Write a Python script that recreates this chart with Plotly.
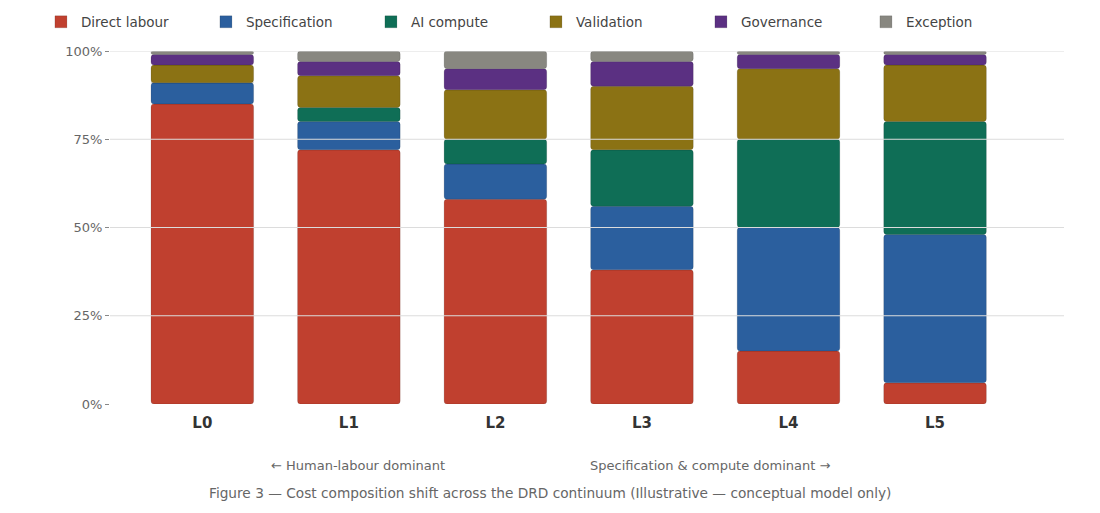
import numpy as np
import plotly.graph_objects as go

levels = ["L0", "L1", "L2", "L3", "L4", "L5"]

# cost shares (%) per level
direct_labour = [85, 72, 58, 38, 15, 6]
specification = [6, 8, 10, 18, 35, 42]
ai_compute = [0, 4, 7, 16, 25, 32]
validation = [5, 9, 14, 18, 20, 16]
governance = [3, 4, 6, 7, 4, 3]
exception = [1, 3, 5, 3, 1, 1]

series = [
    ("Direct labour", direct_labour, "#c0402f"),
    ("Specification", specification, "#2b5f9e"),
    ("AI compute", ai_compute, "#0f6e56"),
    ("Validation", validation, "#8b7214"),
    ("Governance", governance, "#5b3082"),
    ("Exception", exception, "#888780"),
]

y_ticks = [0, 25, 50, 75, 100]
y_labels = ["0%", "25%", "50%", "75%", "100%"]

fig = go.Figure()
base = np.zeros(len(levels))
for name, vals, col in series:
    vals = np.array(vals, dtype=float)
    fig.add_trace(go.Bar(
        x=levels, y=vals, base=base, name=name, legendgroup=name,
        showlegend=False, width=0.7,
        marker=dict(color=col, cornerradius=3,
                    line=dict(color="rgba(0,0,0,0.25)", width=0.5)),
    ))
    base = base + vals

# square legend swatches (rounded bars would give round swatches)
for name, vals, col in series:
    fig.add_trace(go.Bar(x=[levels[0]], y=[None], name=name, legendgroup=name,
                         marker=dict(color=col, line=dict(color="rgba(0,0,0,0.25)", width=0.5))))

# grid lines sit on top of the bars in the original
for t in y_ticks[1:]:
    fig.add_shape(type="line", xref="paper", yref="y", x0=0, x1=1, y0=t, y1=t,
                  line=dict(color="#dcdcdc", width=1), layer="above")

grey = "#666666"
fig.add_annotation(text="← Human-labour dominant", xref="paper", yref="paper",
                   x=0.26, y=-0.173, xanchor="center", yanchor="middle",
                   showarrow=False, font=dict(size=13, color=grey))
fig.add_annotation(text="Specification & compute dominant →", xref="paper", yref="paper",
                   x=0.629, y=-0.173, xanchor="center", yanchor="middle",
                   showarrow=False, font=dict(size=13, color=grey))
fig.add_annotation(text="Figure 3 — Cost composition shift across the DRD continuum "
                        "(Illustrative — conceptual model only)",
                   xref="paper", yref="paper", x=0.461, y=-0.252,
                   xanchor="center", yanchor="middle", showarrow=False,
                   font=dict(size=13.7, color=grey))

# page body adds an 8px offset, margins are trimmed for it
fig.update_layout(
    width=1100, height=513,
    barmode="overlay",
    plot_bgcolor="white", paper_bgcolor="white",
    font=dict(family="DejaVu Sans", size=13, color="#444"),
    margin=dict(l=102, r=44, t=43, b=117, autoexpand=False),
    showlegend=True,
    legend=dict(orientation="h", x=-0.0724, xanchor="left", y=1.082, yanchor="middle",
                entrywidth=120, traceorder="normal",
                font=dict(size=13.5, color="#444")),
    xaxis=dict(range=[-0.63, 5.88], showgrid=False, zeroline=False,
               showline=False, ticks="", ticklabelstandoff=8,
               tickfont=dict(size=15, color="#333", weight="bold")),
    yaxis=dict(range=[0, 100], tickvals=y_ticks, ticktext=y_labels,
               showgrid=False, zeroline=False, showline=False,
               ticks="outside", ticklen=4, tickcolor="#888",
               tickfont=dict(size=13, color=grey)),
)

fig.write_html("out.html")
